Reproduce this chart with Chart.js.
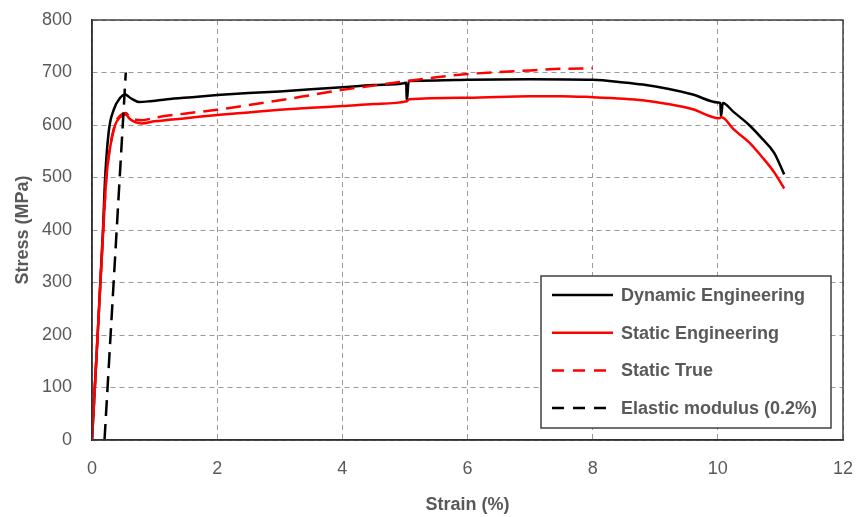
<!DOCTYPE html>
<html>
<head>
<meta charset="utf-8">
<script src="https://cdn.jsdelivr.net/npm/chart.js@4"></script>
<style>
  html, body { margin: 0; padding: 0; background: #fff; }
  #wrap { width: 859px; height: 517px; position: relative; }
</style>
</head>
<body>
<div id="wrap"><canvas id="chart"></canvas></div>
<script>
// strain (%) / stress (MPa)
const dynStrain = [0, 0.09, 0.175, 0.21, 0.27, 0.35, 0.45, 0.53, 0.62, 0.75, 0.9, 1.2, 1.6, 2.0, 2.5, 3.0, 3.5, 4.0, 4.5, 5.0, 5.02, 5.03, 5.06, 5.5, 6.0, 7.0, 8.0, 8.5, 8.8, 9.2, 9.6, 10.0, 10.04, 10.05, 10.08, 10.25, 10.5, 10.7, 10.9, 11.06];
const dynStress = [0, 200, 400, 500, 590, 630, 652, 658, 651, 644, 645, 649, 653, 657, 661, 664, 668, 672, 676, 680, 681, 645, 684, 685, 686, 687, 686, 681, 677, 669, 658, 643, 642, 616, 642, 625, 600, 575, 547, 506];

const engStrain = [0, 0.09, 0.18, 0.23, 0.28, 0.37, 0.45, 0.54, 0.6, 0.7, 0.8, 1.0, 1.5, 2.0, 2.5, 3.0, 3.5, 4.0, 4.5, 5.02, 5.07, 6.0, 7.0, 7.5, 8.0, 8.5, 8.8, 9.2, 9.6, 10.02, 10.06, 10.25, 10.5, 10.7, 10.9, 11.06];
const engStress = [0, 200, 400, 500, 550, 600, 615, 620, 612, 605, 603, 607, 613, 619, 624, 629, 633, 636, 640, 645, 649, 652, 655, 655, 653, 650, 647, 640, 630, 613, 615, 592, 567, 540, 510, 479];

const trueStrain = [0, 0.09, 0.18, 0.23, 0.28, 0.37, 0.45, 0.54, 0.6, 0.7, 0.8, 1.0, 1.5, 2.0, 2.5, 3.0, 3.5, 4.0, 4.5, 5.0, 5.5, 6.0, 6.5, 7.0, 7.5, 8.0];
const trueStress = [0, 200, 400, 501, 552, 602, 618, 623, 616, 610, 609, 614, 622, 629, 638, 647, 657, 667, 675, 683, 691, 697, 701, 704, 707, 708];

const elasticStrain = [0.2, 0.54];
const elasticStress = [0, 700];

const xTicks = [0, 2, 4, 6, 8, 10, 12];
const yTicks = [0, 100, 200, 300, 400, 500, 600, 700, 800];

const textGray = "#595959";
const fontFam = "'Liberation Sans', Arial, sans-serif";

function pts(xs, ys) {
  return xs.map((x, i) => ({ x: x, y: ys[i] }));
}

// frame around plot area + legend box inside the plot
const framePlugin = {
  id: "frame",
  afterDraw(chart) {
    const ctx = chart.ctx;
    const a = chart.chartArea;
    ctx.save();
    ctx.strokeStyle = "#404040";
    ctx.lineWidth = 1.5;
    ctx.strokeRect(a.left, a.top, a.right - a.left, a.bottom - a.top);

    // legend
    const w = 290, h = 152;
    const bx = a.right - 12 - w, by = a.bottom - 12 - h;
    ctx.fillStyle = "#fff";
    ctx.fillRect(bx, by, w, h);
    ctx.strokeStyle = "#404040";
    ctx.lineWidth = 1.5;
    ctx.strokeRect(bx, by, w, h);

    const items = [0, 1, 2, 3].map(i => chart.data.datasets[i]);
    ctx.font = "bold 18px " + fontFam;
    ctx.textBaseline = "middle";
    items.forEach((ds, i) => {
      const y = by + 19 + i * 37.7;
      ctx.beginPath();
      ctx.strokeStyle = ds.borderColor;
      ctx.lineWidth = 2.5;
      ctx.setLineDash(ds.borderDash ? [12, 9] : []);
      ctx.moveTo(bx + 11, y);
      ctx.lineTo(bx + 72, y);
      ctx.stroke();
      ctx.setLineDash([]);
      ctx.fillStyle = textGray;
      ctx.fillText(ds.label, bx + 80, y + 1);
    });
    ctx.restore();
  }
};

new Chart(document.getElementById("chart"), {
  type: "scatter",
  data: {
    datasets: [
      { label: "Dynamic Engineering", data: pts(dynStrain, dynStress), borderColor: "#000000", order: 3, cubicInterpolationMode: "monotone" },
      { label: "Static Engineering", data: pts(engStrain, engStress), borderColor: "#ff0000", order: 1, cubicInterpolationMode: "monotone" },
      { label: "Static True", data: pts(trueStrain, trueStress), borderColor: "#ff0000", borderDash: [15, 8], order: 2, cubicInterpolationMode: "monotone" },
      { label: "Elastic modulus (0.2%)", data: pts(elasticStrain, elasticStress), borderColor: "#000000", borderDash: [16, 8], order: 0 }
    ].map(ds => Object.assign({ showLine: true, pointRadius: 0, borderWidth: 2.5, fill: false, tension: 0 }, ds))
  },
  options: {
    responsive: true,
    maintainAspectRatio: false,
    animation: false,
    layout: { padding: { left: 0, top: 20, right: 16, bottom: 0 } },
    plugins: {
      legend: { display: false },
      tooltip: { enabled: false }
    },
    scales: {
      x: {
        type: "linear",
        min: 0,
        max: 12,
        afterBuildTicks: scale => { scale.ticks = xTicks.map(v => ({ value: v })); },
        afterFit: scale => { scale.height = 77; scale.paddingLeft = 0; scale.paddingRight = 0; },
        grid: { color: "#9a9a9a", lineWidth: 1, drawTicks: false },
        border: { display: true, color: "#000000", width: 1.5, dash: [5, 4] },
        ticks: { color: textGray, font: { family: fontFam, size: 18 }, padding: 18, maxRotation: 0 },
        title: { display: true, text: "Strain (%)", color: textGray, font: { family: fontFam, size: 18, weight: "bold" }, padding: { top: 0, bottom: 1 } }
      },
      y: {
        type: "linear",
        min: 0,
        max: 800,
        afterBuildTicks: scale => { scale.ticks = yTicks.map(v => ({ value: v })); },
        afterFit: scale => { scale.width = 92; scale.paddingTop = 0; scale.paddingBottom = 0; },
        grid: { color: "#9a9a9a", lineWidth: 1, drawTicks: false },
        border: { display: true, color: "#000000", width: 1.5, dash: [5, 4] },
        ticks: { color: textGray, font: { family: fontFam, size: 18 }, padding: 20 },
        title: { display: true, text: "Stress (MPa)", color: textGray, font: { family: fontFam, size: 18, weight: "bold" }, padding: { top: 12, bottom: 0 } }
      }
    }
  },
  plugins: [framePlugin]
});
</script>
</body>
</html>
